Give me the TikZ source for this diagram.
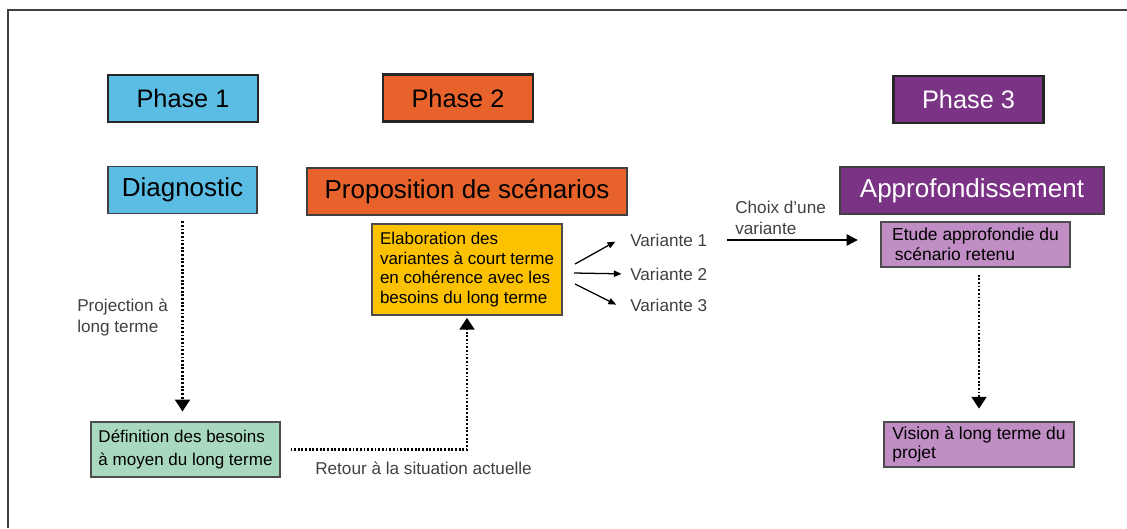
\documentclass[tikz,border=0pt]{standalone}
\usepackage{fontspec}
\setmainfont{Liberation Sans}
\usetikzlibrary{arrows.meta}

\definecolor{phaseblue}{HTML}{5BBDE4}
\definecolor{phaseorange}{HTML}{E8632B}
\definecolor{phasepurple}{HTML}{7B3485}
\definecolor{lilac}{HTML}{C08DC4}
\definecolor{gold}{HTML}{FCC200}
\definecolor{mint}{HTML}{A8D8BD}

\tikzstyle{phase}=[draw=black!85,line width=1.6pt,minimum width=3.75cm,minimum height=1.175cm,inner sep=0pt,font=\fontsize{18}{21}\selectfont]
\tikzstyle{stage}=[draw=black!75,line width=1pt,minimum height=1.175cm,inner sep=0pt,font=\fontsize{18.5}{22}\selectfont]
\tikzstyle{task}=[draw=black!70,line width=0.9pt,align=left,inner xsep=2pt,inner ysep=0pt,font=\fontsize{12.1}{14}\selectfont]
\tikzstyle{note}=[text=black!75,align=left,inner sep=0pt,font=\fontsize{12.2}{15}\selectfont]
\tikzstyle{dotted link}=[draw,line width=2pt,dash pattern=on 1.3pt off 1.3pt,-{Triangle[width=10.5pt,length=8.5pt]}]
\tikzstyle{fan edge}=[draw,line width=0.9pt,-{Triangle[width=4.5pt,length=5.5pt]}]
\tikzstyle{choice edge}=[draw,line width=1.5pt,-{Triangle[width=8pt,length=8pt]}]

\begin{document}
\begin{tikzpicture}[x=0.025cm,y=-0.025cm]
	\useasboundingbox (0,0) rectangle (1127,528);
	% frame of the page
	\draw[line width=1.1pt,black!75] (8,528) -- (8,10) -- (1127,10);
	% the three phases
	\node[phase,fill=phaseblue] (phase1) at (183,98.5) {Phase 1};
	\node[phase,fill=phaseorange] (phase2) at (458,98) {Phase 2};
	\node[phase,fill=phasepurple,text=white] (phase3) at (968.5,99.5) {Phase 3};
	% what each phase does
	\node[stage,fill=phaseblue,minimum width=3.725cm] (diag) at (182.5,190) {Diagnostic};
	\node[stage,fill=phaseorange,minimum width=8cm] (scen) at (467,191.5) {Proposition de scénarios};
	\node[stage,fill=phasepurple,text=white,minimum width=6.6cm] (appro) at (972,190.5) {Approfondissement};
	% boxes below
	\node[task,fill=gold,minimum width=4.75cm,minimum height=2.275cm] (elab) at (467,269.5)
		{Elaboration des\\variantes à court terme\\en cohérence avec les\\besoins du long terme};
	\node[task,fill=mint,minimum width=4.725cm,minimum height=1.375cm,font=\fontsize{12.1}{16}\selectfont] (def) at (185.5,449.5)
		{Définition des besoins\\à moyen du long terme};
	\node[task,fill=lilac,minimum width=4.725cm,minimum height=1.125cm,font=\fontsize{12.4}{14}\selectfont] (etude) at (975.5,244.5)
		{Etude approfondie du\\\hspace{2pt}scénario retenu};
	\node[task,fill=lilac,minimum width=4.75cm,minimum height=1.125cm,font=\fontsize{12.4}{14}\selectfont] (vision) at (979,444.5)
		{Vision à long terme du\\projet};
	% texts along the links
	\foreach \i/\y in {1/240,2/274,3/305}
		\node[note,anchor=west] (var\i) at (630,\y) {Variante \i};
	\node[note,anchor=west] (choix) at (735,217.5) {Choix d’une\\variante};
	\node[note,anchor=west,font=\fontsize{12.2}{15.5}\selectfont] (proj) at (77,317.5) {Projection à\\long terme};
	\node[note,anchor=west] (retour) at (315,468) {Retour à la situation actuelle};
	% links
	\coordinate (fan1) at (575,264);
	\coordinate (fan2) at (574,273);
	\coordinate (fan3) at (575,284);
	\foreach \i/\side/\gap in {1/north west/12pt,2/west/6pt,3/south west/11pt}
		\path[fan edge,shorten >=\gap] (fan\i) to (var\i.\side);
	\coordinate (pick) at (727,240);
	\path[choice edge,shorten >=16pt] (pick) -- (pick -| etude.west);
	\path[dotted link,shorten <=5pt,shorten >=7pt] (diag.south) -- (diag.south |- def.north);
	\path[dotted link,shorten <=7pt,shorten >=1.5pt] (def.east) -| (elab.south);
	\path[dotted link,shorten <=5pt,shorten >=9pt] (vision.north |- etude.south) -- (vision.north);
\end{tikzpicture}
\end{document}
